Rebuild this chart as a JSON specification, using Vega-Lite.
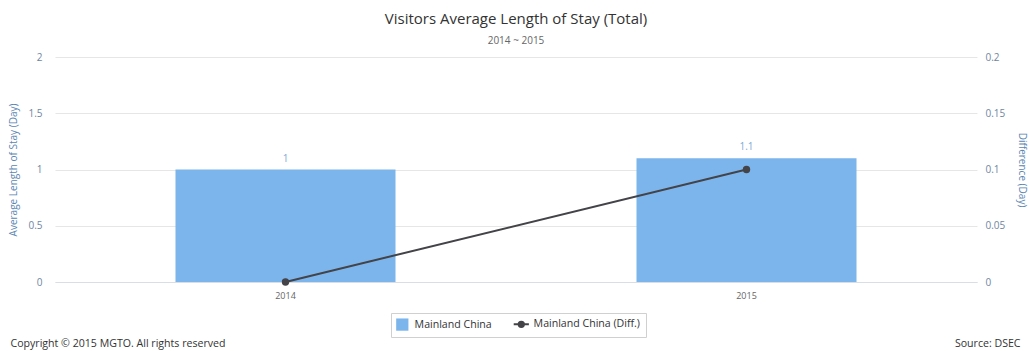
{
  "$schema": "https://vega.github.io/schema/vega-lite/v6.json",
  "width": 922,
  "height": 225,
  "autosize": {"type": "none"},
  "padding": {"left": 55, "top": 57, "right": 52, "bottom": 69},
  "background": "white",
  "config": {
    "font": "Open Sans",
    "view": {"stroke": null},
    "axis": {"labelFont": "Open Sans", "titleFont": "Open Sans"}
  },
  "title": {
    "text": "Visitors Average Length of Stay (Total)",
    "subtitle": "2014 ~ 2015",
    "anchor": "middle",
    "frame": "group",
    "fontSize": 15,
    "fontWeight": "normal",
    "color": "#333333",
    "subtitleFontSize": 10,
    "subtitleColor": "#666666",
    "subtitlePadding": 9,
    "offset": 6
  },
  "layer": [
    {
      "data": {
        "values": [
          {"year": "2014", "series": "Mainland China", "value": 1},
          {"year": "2015", "series": "Mainland China", "value": 1.1}
        ]
      },
      "layer": [
        {
          "mark": {"type": "bar", "size": 220},
          "encoding": {
            "x": {
              "field": "year",
              "type": "nominal",
              "scale": {"paddingInner": 0, "paddingOuter": 0},
              "axis": {
                "orient": "bottom",
                "title": "Copyright © 2015 MGTO. All rights reserved",
                "titleFontSize": 10.6,
                "titleFontWeight": "normal",
                "titleColor": "#333333",
                "titleAnchor": "start",
                "titleAlign": "left",
                "titleX": -45,
                "titleY": 64,
                "titleBaseline": "alphabetic",
                "labelAngle": 0,
                "labelFontSize": 9,
                "labelColor": "#666666",
                "labelPadding": 9,
                "ticks": false,
                "domain": true,
                "domainColor": "#d8dde6",
                "grid": false
              }
            },
            "y": {
              "field": "value",
              "type": "quantitative",
              "scale": {"domain": [0, 2]},
              "axis": {
                "title": "Average Length of Stay (Day)",
                "titleFontSize": 10,
                "titleFontWeight": "normal",
                "titleColor": "#5b86b3",
                "titlePadding": 9,
                "values": [0, 0.5, 1, 1.5, 2],
                "format": "~g",
                "labelFontSize": 10,
                "labelColor": "#6f86a0",
                "labelPadding": 13,
                "ticks": false,
                "domain": false,
                "grid": true,
                "gridColor": "#e6e6e6"
              }
            },
            "color": {
              "field": "series",
              "type": "nominal",
              "scale": {
                "domain": ["Mainland China", "Mainland China (Diff.)"],
                "range": ["#7cb5ec", "#434348"]
              },
              "legend": {
                "title": null,
                "orient": "none",
                "legendX": 336,
                "legendY": 256,
                "direction": "horizontal",
                "strokeColor": "#d0d0d0",
                "fillColor": "white",
                "padding": 6,
                "labelFontSize": 10.6,
                "labelColor": "#333333",
                "labelFont": "Open Sans",
                "labelOffset": 7,
                "columnPadding": 17,
                "symbolOffset": 0,
                "encode": {
                  "symbols": {
                    "update": {
                      "shape": {"signal": "datum.value === 'Mainland China' ? 'square' : 'M-1,0H1M-0.35,0A0.35,0.35 0 1,0 0.35,0A0.35,0.35 0 1,0 -0.35,0'"},
                      "size": {"signal": "datum.value === 'Mainland China' ? 150 : 230"},
                      "fill": {"signal": "datum.value === 'Mainland China' ? '#7cb5ec' : '#434348'"},
                      "stroke": {"signal": "datum.value === 'Mainland China' ? '#7cb5ec' : '#434348'"},
                      "strokeWidth": {"signal": "datum.value === 'Mainland China' ? 0 : 2"},
                      "opacity": {"value": 1}
                    }
                  }
                }
              }
            }
          }
        },
        {
          "mark": {"type": "text", "baseline": "bottom", "dy": -6, "fontSize": 10, "color": "#7fa9d6"},
          "encoding": {
            "x": {"field": "year", "type": "nominal"},
            "y": {"field": "value", "type": "quantitative"},
            "text": {"field": "value", "type": "quantitative"}
          }
        }
      ]
    },
    {
      "data": {
        "values": [
          {"year": "2014", "series": "Mainland China (Diff.)", "value": 0},
          {"year": "2015", "series": "Mainland China (Diff.)", "value": 0.1}
        ]
      },
      "layer": [
        {
          "mark": {"type": "line", "strokeWidth": 2},
          "encoding": {
            "x": {
              "field": "year",
              "type": "nominal",
              "axis": {
                "orient": "bottom",
                "title": "Source: DSEC",
                "titleFontSize": 10.6,
                "titleFontWeight": "normal",
                "titleColor": "#333333",
                "titleAnchor": "end",
                "titleAlign": "right",
                "titleX": 965,
                "titleY": 64,
                "titleBaseline": "alphabetic",
                "labels": false,
                "ticks": false,
                "domain": false,
                "grid": false
              }
            },
            "y": {
              "field": "value",
              "type": "quantitative",
              "scale": {"domain": [0, 0.2]},
              "axis": {
                "orient": "right",
                "title": "Difference (Day)",
                "titleFontSize": 10,
                "titleFontWeight": "normal",
                "titleColor": "#5b86b3",
                "titlePadding": 12,
                "values": [0, 0.05, 0.1, 0.15, 0.2],
                "format": "~g",
                "labelFontSize": 10,
                "labelColor": "#6f86a0",
                "labelPadding": 8,
                "ticks": false,
                "domain": false,
                "grid": false
              }
            },
            "color": {"field": "series", "type": "nominal"}
          }
        },
        {
          "mark": {"type": "point", "filled": true, "size": 55, "opacity": 1},
          "encoding": {
            "x": {"field": "year", "type": "nominal"},
            "y": {"field": "value", "type": "quantitative"},
            "color": {"field": "series", "type": "nominal"}
          }
        }
      ]
    }
  ],
  "resolve": {"scale": {"y": "independent"}, "axis": {"x": "independent"}}
}
